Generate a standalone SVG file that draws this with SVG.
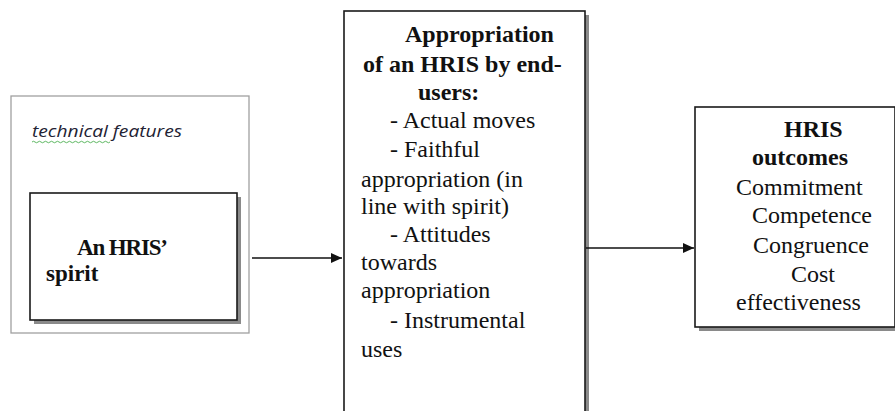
<svg xmlns="http://www.w3.org/2000/svg" width="895" height="411" viewBox="0 0 895 411">
  <style>
    .box { fill: #ffffff; stroke: #1a1a1a; stroke-width: 1.6; }
    .shadow { fill: #8a8a8a; }
    .frame { fill: #ffffff; stroke: #a0a0a0; stroke-width: 1.3; }
    .t { font-family: 'Liberation Serif', 'Times New Roman', serif; font-size: 24px; fill: #111111; }
    .s { font-size: 23px; }
    .b { font-weight: bold; }
    .note { font-family: 'Open Sans', 'Liberation Sans', Arial, sans-serif; font-style: italic; font-size: 16px; fill: #222233; }
    .conn { stroke: #111111; stroke-width: 1.4; fill: none; }
  </style>
  <defs>
    <marker id="arrow" viewBox="0 0 11 10" refX="11" refY="5" markerWidth="11" markerHeight="10" markerUnits="userSpaceOnUse" orient="auto">
      <path d="M0,0 L11,5 L0,10 z" fill="#111111"/>
    </marker>
  </defs>
  <rect width="895" height="411" fill="#ffffff"/>

  <!-- Technical features frame with the spirit box inside -->
  <g id="technical-features">
    <rect class="frame" x="11" y="96" width="238" height="237"/>
    <text class="note" x="32" y="137" textLength="150" lengthAdjust="spacingAndGlyphs">technical features</text>
    <path d="M32,142 q1.5,-1.5 3,0 t3,0 t3,0 t3,0 t3,0 t3,0 t3,0 t3,0 t3,0 t3,0 t3,0 t3,0 t3,0 t3,0 t3,0 t3,0 t3,0 t3,0 t3,0 t3,0 t3,0 t3,0 t3,0 t3,0 t3,0 t3,0" stroke="#4caf50" stroke-width="0.9" fill="none"/>
  </g>

  <g id="hris-spirit">
    <rect class="shadow" x="34" y="197" width="207" height="127"/>
    <rect class="box" x="30" y="193" width="207" height="127"/>
    <text class="t s b" x="77" y="255" textLength="91" lengthAdjust="spacing">An HRIS’</text>
    <text class="t s b" x="46" y="281">spirit</text>
  </g>

  <!-- Appropriation box (runs off the bottom edge) -->
  <g id="appropriation">
    <rect class="shadow" x="348" y="15" width="241" height="410"/>
    <rect class="box" x="344" y="11" width="241" height="410"/>
    <text class="t b" x="405" y="42">Appropriation</text>
    <text class="t b" x="363" y="72">of an HRIS by end-</text>
    <text class="t b" x="418" y="100">users:</text>
    <text class="t" x="390" y="128">- Actual moves</text>
    <text class="t" x="390" y="157">- Faithful</text>
    <text class="t" x="361" y="187">appropriation (in</text>
    <text class="t" x="361" y="214">line with spirit)</text>
    <text class="t" x="390" y="242">- Attitudes</text>
    <text class="t" x="361" y="270">towards</text>
    <text class="t" x="361" y="298">appropriation</text>
    <text class="t" x="390" y="328">- Instrumental</text>
    <text class="t" x="361" y="357">uses</text>
  </g>

  <!-- HRIS outcomes box -->
  <g id="hris-outcomes">
    <rect class="shadow" x="699" y="111" width="200" height="220"/>
    <rect class="box" x="695" y="107" width="200" height="220"/>
    <text class="t b" x="784" y="137">HRIS</text>
    <text class="t b" x="752" y="165">outcomes</text>
    <text class="t" x="736" y="195">Commitment</text>
    <text class="t" x="752" y="223">Competence</text>
    <text class="t" x="753" y="253">Congruence</text>
    <text class="t" x="791" y="282">Cost</text>
    <text class="t" x="736" y="310">effectiveness</text>
  </g>

  <!-- Connectors -->
  <g id="connectors">
    <line class="conn" x1="252" y1="258" x2="342" y2="258" marker-end="url(#arrow)"/>
    <line class="conn" x1="586" y1="248" x2="694" y2="248" marker-end="url(#arrow)"/>
  </g>
</svg>
